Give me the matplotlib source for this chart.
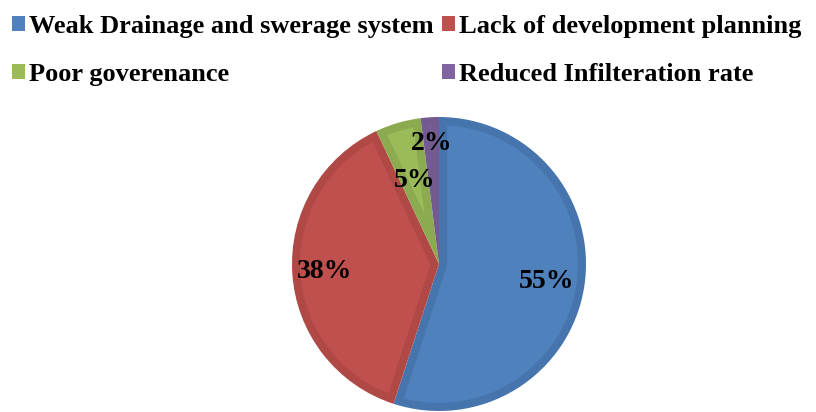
import numpy as np
import matplotlib.pyplot as plt
from matplotlib.patches import Patch, Polygon

categories = ["Weak Drainage and swerage system", "Lack of development planning",
              "Poor goverenance", "Reduced Infilteration rate"]
shares = [55, 38, 5, 2]
fill_colors = ["#4F81BD", "#C0504D", "#9BBB59", "#8064A2"]
edge_colors = ["#4674AD", "#B04846", "#8CAA50", "#735B92"]
label_radius = [0.74, 0.78, 0.59, 0.82]

font = dict(family="Liberation Serif", weight="bold")


def inset_wedge(t1, t2, R, d, n=120):
    """Outline of a wedge (angles in degrees, t1 < t2) shrunk inward by d."""
    a1, a2 = np.deg2rad(t1), np.deg2rad(t2)
    Ri = R - d
    delta = np.arcsin(d / Ri)
    arc = np.linspace(a1 + delta, a2 - delta, n)
    pts = list(zip(Ri * np.cos(arc), Ri * np.sin(arc)))
    span = a2 - a1
    if span < np.pi:
        mid = (a1 + a2) / 2
        k = d / np.sin(span / 2)
        pts.append((k * np.cos(mid), k * np.sin(mid)))
    else:
        cap = np.linspace(a2 - np.pi / 2, a1 + np.pi / 2, 20)
        pts += list(zip(d * np.cos(cap), d * np.sin(cap)))
    return np.array(pts)


fig = plt.figure(figsize=(8.16, 4.12), dpi=100)

W, H = 816, 412
cx, cy, r = 439, 264, 147
ax = fig.add_axes([(cx - r) / W, (H - cy - r) / H, 2 * r / W, 2 * r / H])

# wedges in the rim colour, then a lighter inset on top of each
wedges, _ = ax.pie(shares, colors=edge_colors, startangle=90, counterclock=False,
                   radius=1.0, wedgeprops=dict(linewidth=0))
rim = 0.055
for w, fc in zip(wedges, fill_colors):
    ax.add_patch(Polygon(inset_wedge(w.theta1, w.theta2, 1.0, rim),
                         closed=True, facecolor=fc, edgecolor="none"))
for w, v, rr in zip(wedges, shares, label_radius):
    ang = np.deg2rad((w.theta1 + w.theta2) / 2)
    ax.text(rr * np.cos(ang), rr * np.sin(ang), f"{v}%", ha="center", va="center",
            fontsize=20, **font)
ax.set_xlim(-1, 1)
ax.set_ylim(-1, 1)
ax.set_aspect("equal")
ax.axis("off")

# legend filled row by row: two entries per row
order = [0, 2, 1, 3]
handles = [Patch(facecolor=fill_colors[i], edgecolor="none") for i in order]
labels = [categories[i] for i in order]
leg = fig.legend(handles, labels, loc="upper left",
                 bbox_to_anchor=(12 / W, 1 - 15 / H),
                 ncol=2, frameon=False, prop=dict(size=19, **font),
                 handlelength=0.5, handleheight=0.5, handletextpad=0.15,
                 columnspacing=0.3, labelspacing=0.95, borderaxespad=0,
                 borderpad=0)

fig.savefig("out.png", dpi=100)
